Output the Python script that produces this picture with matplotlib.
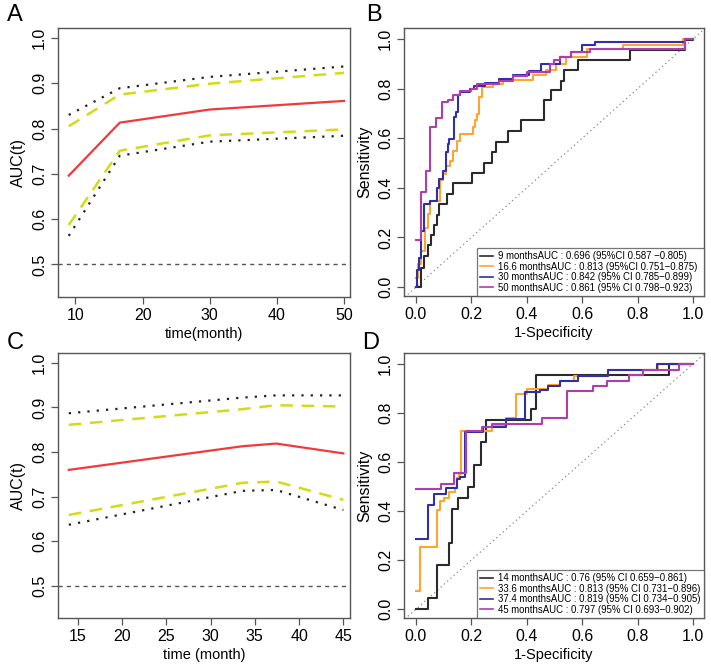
import matplotlib
matplotlib.use("Agg")
import matplotlib.pyplot as plt

plt.rcParams['font.family'] = ['Liberation Sans', 'DejaVu Sans']

# ---------------- Panel A data ----------------
a_times = [9, 16.6, 30, 50]
a_auc = [0.696, 0.813, 0.842, 0.861]
a_ci_low = [0.587, 0.751, 0.785, 0.798]
a_ci_up = [0.805, 0.875, 0.899, 0.923]
a_band_low = [0.563, 0.740, 0.771, 0.784]
a_band_up = [0.830, 0.889, 0.914, 0.937]

# ---------------- Panel C data ----------------
c_times = [14, 33.6, 37.4, 45]
c_auc = [0.760, 0.813, 0.819, 0.797]
c_ci_low = [0.659, 0.731, 0.734, 0.693]
c_ci_up = [0.861, 0.896, 0.905, 0.902]
c_band_low = [0.637, 0.713, 0.715, 0.670]
c_band_up = [0.887, 0.922, 0.927, 0.927]

# ---------------- Panel B ROC data (step corners) ----------------
b_labels = ["9 monthsAUC : 0.696 (95%CI 0.587 \u22120.805)",
            "16.6 monthsAUC : 0.813 (95%CI 0.751\u22120.875)",
            "30 monthsAUC : 0.842 (95% CI 0.785\u22120.899)",
            "50 monthsAUC : 0.861 (95% CI 0.798\u22120.923)"]
b1_fpr = [0, 0.018, 0.03, 0.045, 0.055, 0.065, 0.075, 0.085, 0.114, 0.135, 0.204, 0.246, 0.276, 0.29, 0.333, 0.38, 0.463, 0.486, 0.523, 0.534, 0.585, 0.772, 0.97, 1.0]
b1_tpr = [0, 0.078, 0.125, 0.17, 0.21, 0.25, 0.29, 0.335, 0.375, 0.418, 0.459, 0.50, 0.544, 0.584, 0.63, 0.672, 0.753, 0.796, 0.833, 0.877, 0.917, 0.957, 0.995, 1.0]
b2_fpr = [0, 0.008, 0.02, 0.032, 0.044, 0.05, 0.087, 0.099, 0.11, 0.123, 0.135, 0.147, 0.159, 0.207, 0.213, 0.219, 0.228, 0.237, 0.279, 0.315, 0.423, 0.471, 0.507, 0.543, 0.616, 0.748, 0.964, 1.0]
b2_tpr = [0.038, 0.092, 0.146, 0.24, 0.294, 0.348, 0.43, 0.456, 0.49, 0.51, 0.55, 0.59, 0.618, 0.645, 0.672, 0.70, 0.766, 0.807, 0.82, 0.834, 0.854, 0.874, 0.90, 0.93, 0.962, 0.978, 1.0, 1.0]
b3_fpr = [0, 0.004, 0.01, 0.02, 0.03, 0.05, 0.077, 0.085, 0.097, 0.107, 0.116, 0.12, 0.137, 0.146, 0.153, 0.16, 0.195, 0.21, 0.25, 0.3, 0.35, 0.41, 0.45, 0.52, 0.56, 0.6, 0.646, 0.97, 1.0]
b3_tpr = [0, 0.07, 0.119, 0.227, 0.335, 0.348, 0.40, 0.436, 0.47, 0.544, 0.578, 0.598, 0.686, 0.706, 0.773, 0.787, 0.80, 0.81, 0.825, 0.84, 0.855, 0.87, 0.90, 0.93, 0.95, 0.976, 0.989, 1.0, 1.0]
b4_fpr = [0, 0.018, 0.035, 0.05, 0.072, 0.093, 0.117, 0.135, 0.16, 0.2, 0.22, 0.3, 0.35, 0.40, 0.484, 0.5, 0.52, 0.56, 0.628, 0.97, 1.0]
b4_tpr = [0.19, 0.385, 0.47, 0.645, 0.68, 0.745, 0.755, 0.775, 0.79, 0.80, 0.82, 0.83, 0.85, 0.868, 0.90, 0.915, 0.93, 0.95, 0.962, 1.0, 1.0]

# ---------------- Panel D ROC data (step corners) ----------------
d_labels = ["14 monthsAUC : 0.76 (95% CI 0.659\u22120.861)",
            "33.6 monthsAUC : 0.813 (95% CI 0.731\u22120.896)",
            "37.4 monthsAUC : 0.819 (95% CI 0.734\u22120.905)",
            "45 monthsAUC : 0.797 (95% CI 0.693\u22120.902)"]
d1_fpr = [0, 0.044, 0.077, 0.12, 0.129, 0.153, 0.189, 0.209, 0.235, 0.253, 0.417, 0.435, 0.913, 1.0]
d1_tpr = [0, 0.045, 0.18, 0.27, 0.41, 0.455, 0.50, 0.59, 0.68, 0.773, 0.818, 0.955, 1.0, 1.0]
d2_fpr = [0, 0.014, 0.075, 0.087, 0.10, 0.12, 0.14, 0.147, 0.155, 0.161, 0.275, 0.327, 0.363, 0.40, 0.478, 0.52, 0.57, 0.694, 0.875, 1.0]
d2_tpr = [0.075, 0.254, 0.405, 0.44, 0.455, 0.48, 0.493, 0.534, 0.55, 0.728, 0.75, 0.78, 0.877, 0.90, 0.915, 0.93, 0.95, 0.975, 1.0, 1.0]
d3_fpr = [0, 0.044, 0.066, 0.107, 0.149, 0.16, 0.177, 0.243, 0.327, 0.394, 0.448, 0.478, 0.52, 0.585, 0.694, 0.869, 1.0]
d3_tpr = [0.286, 0.423, 0.47, 0.493, 0.53, 0.54, 0.724, 0.745, 0.775, 0.886, 0.895, 0.91, 0.93, 0.95, 0.975, 1.0, 1.0]
d4_fpr = [0, 0.09, 0.138, 0.18, 0.237, 0.275, 0.454, 0.545, 0.64, 0.69, 0.77, 0.82, 0.95, 1.0]
d4_tpr = [0.489, 0.51, 0.554, 0.728, 0.745, 0.755, 0.778, 0.89, 0.91, 0.93, 0.955, 0.975, 1.0, 1.0]

roc_colors = ["#2b2b2b", "#ffa42e", "#2f2fa8", "#b03cb0"]
red = "#f03a3a"
yellow = "#d2dc14"
spine_col = "#555555"

fig = plt.figure(figsize=(7.11, 6.64), dpi=100)

def frac(l, t, r, b):
    return [l / 711, 1 - b / 664, (r - l) / 711, (b - t) / 664]

axA = fig.add_axes(frac(58, 28, 350, 297))
axB = fig.add_axes(frac(404, 28, 704, 296))
axC = fig.add_axes(frac(58, 353, 350, 618))
axD = fig.add_axes(frac(404, 353, 704, 618))

def style(ax):
    for s in ax.spines.values():
        s.set_color(spine_col)
        s.set_linewidth(1.0)
    ax.tick_params(direction='out', length=5, width=0.9, color=spine_col,
                   labelsize=11.5, pad=3)
    for lab in ax.get_yticklabels():
        lab.set_rotation(90)
        lab.set_va('center')

def auc_panel(ax, t, auc, lo, up, blo, bup, xlim, xticks, xlabel):
    ax.axhline(0.5, color="#555555", lw=1.0, ls=(0, (3, 3)))
    ax.plot(t, bup, color="#222222", lw=1.6, ls=(0, (1, 3.2)))
    ax.plot(t, blo, color="#222222", lw=1.6, ls=(0, (1, 3.2)))
    ax.plot(t, up, color=yellow, lw=1.8, ls=(0, (5, 3.5)))
    ax.plot(t, lo, color=yellow, lw=1.8, ls=(0, (5, 3.5)))
    ax.plot(t, auc, color=red, lw=1.6)
    ax.set_xlim(*xlim)
    ax.set_ylim(0.428, 1.022)
    ax.set_xticks(xticks)
    ax.set_yticks([0.5, 0.6, 0.7, 0.8, 0.9, 1.0])
    ax.set_yticklabels(["0.5", "0.6", "0.7", "0.8", "0.9", "1.0"])
    ax.set_xlabel(xlabel, fontsize=10.5, labelpad=3)
    ax.set_ylabel("AUC(t)", fontsize=11.5, labelpad=4)
    style(ax)

auc_panel(axA, a_times, a_auc, a_ci_low, a_ci_up, a_band_low, a_band_up,
          (7.4, 50.9), [10, 20, 30, 40, 50], "time(month)")
auc_panel(axC, c_times, c_auc, c_ci_low, c_ci_up, c_band_low, c_band_up,
          (12.78, 45.75), [15, 20, 25, 30, 35, 40, 45], "time (month)")

def roc_panel(ax, curves, labels):
    ax.plot([-0.1, 1.1], [-0.1, 1.1], color="#888888", lw=0.9, ls=(0, (1, 2.5)))
    handles = []
    for (fx, ty), col, lab in zip(curves, roc_colors, labels):
        h, = ax.step(fx, ty, where='post', color=col, lw=1.5, label=lab)
        handles.append(h)
    ax.set_xlim(-0.043, 1.04)
    ax.set_ylim(-0.036, 1.045)
    ticks = [0.0, 0.2, 0.4, 0.6, 0.8, 1.0]
    ax.set_xticks(ticks)
    ax.set_xticklabels(["0.0", "0.2", "0.4", "0.6", "0.8", "1.0"])
    ax.set_yticks(ticks)
    ax.set_yticklabels(["0.0", "0.2", "0.4", "0.6", "0.8", "1.0"])
    ax.set_xlabel("1-Specificity", fontsize=10.5, labelpad=3)
    ax.set_ylabel("Sensitivity", fontsize=11.5, labelpad=4)
    leg = ax.legend(handles=handles, loc='lower left', mode='expand',
                    bbox_to_anchor=(0.243, 0.0, 0.757, 0.16),
                    fontsize=6.9, frameon=True, fancybox=False, borderaxespad=0,
                    handlelength=1.3, handletextpad=0.5, labelspacing=0.05,
                    borderpad=0.35)
    leg.get_frame().set_edgecolor(spine_col)
    leg.get_frame().set_linewidth(0.9)
    for line in leg.get_lines():
        line.set_linewidth(1.2)
    style(ax)

roc_panel(axB, [(b1_fpr, b1_tpr), (b2_fpr, b2_tpr), (b3_fpr, b3_tpr), (b4_fpr, b4_tpr)], b_labels)
roc_panel(axD, [(d1_fpr, d1_tpr), (d2_fpr, d2_tpr), (d3_fpr, d3_tpr), (d4_fpr, d4_tpr)], d_labels)

for lab, x, y in [("A", 7, 4), ("B", 366, 4), ("C", 7, 332), ("D", 362, 332)]:
    fig.text(x / 711, 1 - y / 664, lab, fontsize=17, va='top', ha='left')

fig.savefig("out.png", dpi=100)
